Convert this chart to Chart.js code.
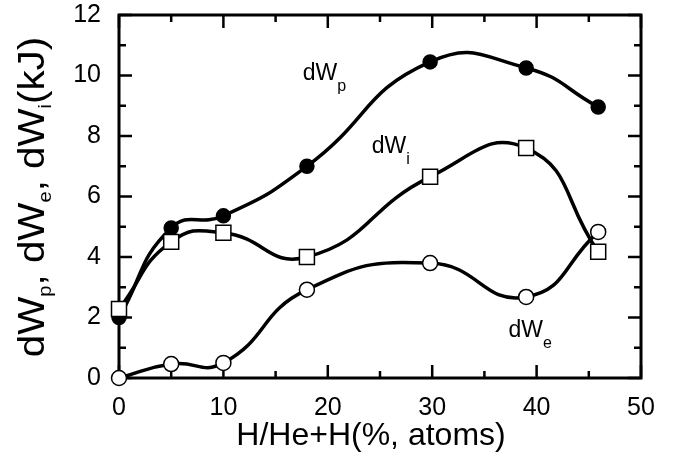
<!DOCTYPE html>
<html>
<head>
<meta charset="utf-8">
<script src="https://cdn.jsdelivr.net/npm/chart.js@4.4.0/dist/chart.umd.min.js"></script>
<style>
  html, body { margin: 0; padding: 0; background: #fff; }
  #wrap { width: 678px; height: 452px; }
</style>
</head>
<body>
<div id="wrap"><canvas id="myChart" width="678" height="452"></canvas></div>
<script>
//---x-axis (H/He+H, % atoms)
var hFraction = [0, 5, 10, 18, 29.8, 39, 45.9];

//---data (kJ)
var dWp = [2.0, 4.96, 5.36, 7.0, 10.45, 10.25, 8.96];
var dWi = [2.28, 4.5, 4.8, 4.0, 6.65, 7.6, 4.17];
var dWe = [0, 0.46, 0.5, 2.92, 3.8, 2.68, 4.83];

//---ticks
var xTicks = [0, 10, 20, 30, 40, 50];
var yTicks = [0, 2, 4, 6, 8, 10, 12];

//---curve labels [text, subscript, x, y]
var curveLabels = [
  ['dW', 'p', 17.6, 9.85],
  ['dW', 'i', 24.2, 7.44],
  ['dW', 'e', 37.3, 1.36]
];

var FONT = '"Liberation Sans", Arial, Helvetica, sans-serif';

function points(ys) {
  return hFraction.map(function (x, i) { return { x: x, y: ys[i] }; });
}

// draw text made of [text, isSub] parts, returns width
function richText(ctx, parts, x, y, size, subSize, subDrop, align) {
  var w = 0;
  parts.forEach(function (p) {
    ctx.font = (p[1] ? subSize : size) + 'px ' + FONT;
    w += ctx.measureText(p[0]).width;
  });
  var cx = align === 'center' ? x - w / 2 : x;
  ctx.textBaseline = 'alphabetic';
  ctx.textAlign = 'left';
  parts.forEach(function (p) {
    ctx.font = (p[1] ? subSize : size) + 'px ' + FONT;
    ctx.fillText(p[0], cx, p[1] ? y + subDrop : y);
    cx += ctx.measureText(p[0]).width;
  });
  return w;
}

var framePlugin = {
  id: 'frame',
  beforeDatasetsDraw: function (chart) {
    var ctx = chart.ctx, a = chart.chartArea;
    var xs = chart.scales.x, ys = chart.scales.y;
    ctx.save();
    ctx.strokeStyle = '#000';
    ctx.lineWidth = 3;
    ctx.strokeRect(a.left, a.top, a.right - a.left, a.bottom - a.top);
    // inward ticks on all four sides
    ctx.lineWidth = 2.5;
    ctx.beginPath();
    for (var v = 0; v <= 50; v += 5) {
      var px = xs.getPixelForValue(v);
      var len = v % 10 === 0 ? 13 : 7;
      ctx.moveTo(px, a.bottom); ctx.lineTo(px, a.bottom - len);
      ctx.moveTo(px, a.top); ctx.lineTo(px, a.top + len);
    }
    for (var u = 0; u <= 12; u += 1) {
      var py = ys.getPixelForValue(u);
      var l2 = u % 2 === 0 ? 13 : 7;
      ctx.moveTo(a.left, py); ctx.lineTo(a.left + l2, py);
      ctx.moveTo(a.right, py); ctx.lineTo(a.right - l2, py);
    }
    ctx.stroke();
    ctx.restore();
  },
  afterDraw: function (chart) {
    var ctx = chart.ctx;
    var xs = chart.scales.x, ys = chart.scales.y;
    ctx.save();
    ctx.fillStyle = '#000';
    // curve labels
    curveLabels.forEach(function (c) {
      richText(ctx, [[c[0], false], [c[1], true]],
        xs.getPixelForValue(c[2]), ys.getPixelForValue(c[3]), 23, 16, 11, 'left');
    });
    // x title
    richText(ctx, [['H/He+H(%, atoms)', false]], 371, 445, 32, 32, 0, 'center');
    // y title
    ctx.translate(44, 197);
    ctx.rotate(-Math.PI / 2);
    ctx.scale(1.12, 1);
    richText(ctx, [['dW', false], ['p', true], [', dW', false], ['e', true],
      [', dW', false], ['i', true], ['(kJ)', false]], 0, 0, 36, 18, 7, 'center');
    ctx.restore();
  }
};

var ctx = document.getElementById('myChart');

function series(ys, style, fill, radius) {
  return {
    data: points(ys),
    showLine: true,
    borderColor: '#000',
    borderWidth: 3.5,
    tension: 0.5,
    pointStyle: style,
    pointRadius: radius,
    pointHoverRadius: radius,
    pointBackgroundColor: fill,
    pointBorderColor: '#000',
    pointBorderWidth: 1.5,
    clip: false
  };
}

var myChart = new Chart(ctx, {
  type: 'scatter',
  data: {
    datasets: [
      series(dWe, 'circle', '#fff', 7.5),
      series(dWi, 'rect', '#fff', 10.6),
      series(dWp, 'circle', '#000', 7)
    ]
  },
  options: {
    responsive: false,
    animation: false,
    layout: { padding: { left: 0, right: 37, top: 15, bottom: 0 } },
    plugins: { legend: { display: false }, tooltip: { enabled: false } },
    scales: {
      x: {
        type: 'linear', min: 0, max: 50,
        afterFit: function (s) { s.height = 74; s.paddingLeft = 0; s.paddingRight = 0; },
        afterBuildTicks: function (s) { s.ticks = xTicks.map(function (v) { return { value: v }; }); },
        grid: { display: false, drawTicks: false },
        border: { display: false },
        ticks: { color: '#000', padding: 15, font: { family: FONT, size: 25 } }
      },
      y: {
        type: 'linear', min: 0, max: 12,
        afterFit: function (s) { s.width = 119; s.paddingTop = 0; s.paddingBottom = 0; },
        afterBuildTicks: function (s) { s.ticks = yTicks.map(function (v) { return { value: v }; }); },
        grid: { display: false, drawTicks: false },
        border: { display: false },
        ticks: { color: '#000', padding: 18, font: { family: FONT, size: 25 } }
      }
    }
  },
  plugins: [framePlugin]
});
</script>
</body>
</html>
